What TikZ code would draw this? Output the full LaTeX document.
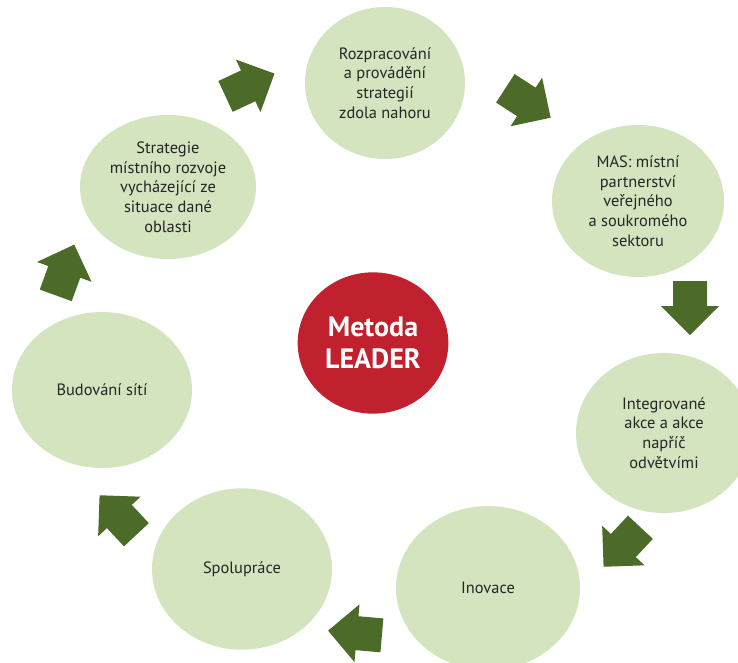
\documentclass[tikz,border=0pt]{standalone}
\usepackage{fontspec}
\setmainfont{PT Sans}
\usetikzlibrary{shapes.geometric}
\definecolor{bubble}{HTML}{D3E4BF}
\definecolor{arrowgreen}{HTML}{4D6B28}
\definecolor{leaderred}{HTML}{C1202F}
\definecolor{txt}{HTML}{262626}
\tikzset{
  bubblenode/.style={ellipse, fill=bubble, inner sep=0pt, align=center, text=txt,
    font=\fontsize{12.3}{14.8}\selectfont},
  leadernode/.style={ellipse, fill=leaderred, inner sep=0pt, align=center, text=white,
    font=\fontsize{21}{24}\selectfont\bfseries},
  blockarrow/.style={fill=arrowgreen}
}
\newcommand\blkarrow[2]{%
  \fill[blockarrow, shift={(#1)}, rotate=#2]
    (-27,-17) -- (-2,-17) -- (-2,-29) -- (27,0) -- (-2,29) -- (-2,17) -- (-27,17) -- cycle;}
\begin{document}
\begin{tikzpicture}[x=0.75pt, y=-0.75pt]
\useasboundingbox (0,0) rectangle (738,662);
\fill[white] (0,0) rectangle (738,662);
% bubbles
\node[bubblenode, minimum width=120pt, minimum height=114pt] (roz) at (385,83)
  {Rozpracování\\a provádění\\strategií\\zdola nahoru};
\node[bubblenode, minimum width=129pt, minimum height=114pt] (mas) at (638,201)
  {MAS: místní\\partnerství\\veřejného\\a soukromého\\sektoru};
\node[bubblenode, minimum width=132pt, minimum height=120pt] (int) at (664,433)
  {Integrované\\akce a akce\\napříč\\odvětvími};
\node[bubblenode, minimum width=138pt, minimum height=123pt] (ino) at (488,588)
  {Inovace};
\node[bubblenode, minimum width=135pt, minimum height=121pt] (spo) at (242,569)
  {Spolupráce};
\node[bubblenode, minimum width=135pt, minimum height=117pt] (bud) at (102,390)
  {Budování sítí};
\node[bubblenode, minimum width=132pt, minimum height=108pt] (str) at (168,187)
  {Strategie\\místního rozvoje\\vycházející ze\\situace dané\\oblasti};
\node[leadernode, minimum width=113pt, minimum height=106pt] (lead) at (373,343)
  {Metoda\\LEADER};
% arrows
\blkarrow{250,85}{25}
\blkarrow{528,103}{-33}
\blkarrow{690,308}{-90}
\blkarrow{622,547}{-133}
\blkarrow{355,633}{175}
\blkarrow{118,515}{133}
\blkarrow{65,270}{70}
\end{tikzpicture}
\end{document}
